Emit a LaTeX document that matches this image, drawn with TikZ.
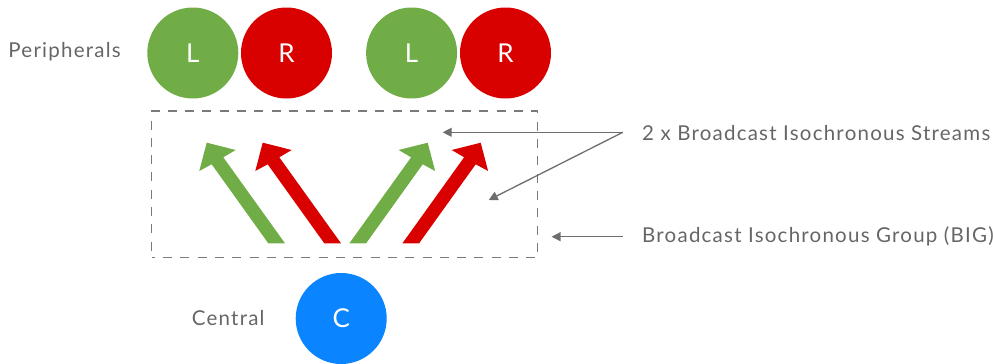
\documentclass[tikz,border=0pt]{standalone}
\usepackage{fontspec}
\setmainfont{Lato}[LetterSpace=6]
\usetikzlibrary{arrows.meta}
\definecolor{pgreen}{HTML}{70AD47}
\definecolor{pred}{HTML}{D90000}
\definecolor{pblue}{HTML}{0A84FF}
\definecolor{tgrey}{HTML}{666666}
\definecolor{lgrey}{HTML}{6E6E6E}
\definecolor{bgrey}{HTML}{7A7A7A}
\newcommand\bigarrowpath{(268.3,243.3) -- (211.7,164.3) -- (199.3,171) -- (206.7,142.7) -- (235.7,150) -- (223.3,157.3) -- (285,243.3) -- cycle}
\begin{document}
\begin{tikzpicture}[x=1pt,y=-1pt,
  dev/.style={circle, minimum size=91pt, inner sep=0pt, text=white, font=\fontsize{26}{30}\selectfont},
  lbl/.style={anchor=base west, inner sep=0pt, text=tgrey, font=\fontsize{20.5}{24}\selectfont},
  conn/.style={draw=lgrey, line width=1.3pt, -{Triangle[length=9pt,width=9pt]}},
  groupbox/.style={draw=bgrey, dash pattern=on 9pt off 8.3pt, dash phase=6pt, line width=1.4pt, inner sep=0pt}]
\useasboundingbox (0,0) rectangle (993,364);

% peripherals
\node[dev, fill=pgreen] (L1) at (192.8,53) {L};
\node[dev, fill=pred]   (R1) at (286.5,53) {R};
\node[dev, fill=pgreen] (L2) at (411.6,53) {L};
\node[dev, fill=pred]   (R2) at (505.5,53) {R};
\node[dev, fill=pblue]  (C)  at (341.2,318.5) {C};

\node[lbl] (per) at (8.3,57.7) {Peripherals};
\node[lbl] (cen) at (191.7,325) {Central};
\node[lbl] (bis) at (642,140) {2 x Broadcast Isochronous Streams};
\node[lbl] (bg)  at (642,242) {Broadcast Isochronous Group (BIG)};

% group box
\node[groupbox, minimum width=386pt, minimum height=146.7pt] (box) at (344.7,184.35) {};

% stream arrows
\fill[pgreen] \bigarrowpath;
\begin{scope}[xshift=56pt]
  \fill[pred] \bigarrowpath;
\end{scope}
\begin{scope}[shift={(634.4,0)}, xscale=-1]
  \fill[pgreen] \bigarrowpath;
\end{scope}
\begin{scope}[shift={(687.4,0)}, xscale=-1]
  \fill[pred] \bigarrowpath;
\end{scope}

% connectors
\coordinate (sA) at (622.8,132.3);
\coordinate (t1) at (442.7,132.3);
\coordinate (t2) at (488.7,200);
\coordinate (bA) at (622.8,236.7);
\coordinate (bt) at (551.6,236.7);
\draw[conn] (sA) -- (t1);
\draw[conn] (sA) -- (t2);
\draw[conn] (bA) -- (bt);
\end{tikzpicture}
\end{document}
